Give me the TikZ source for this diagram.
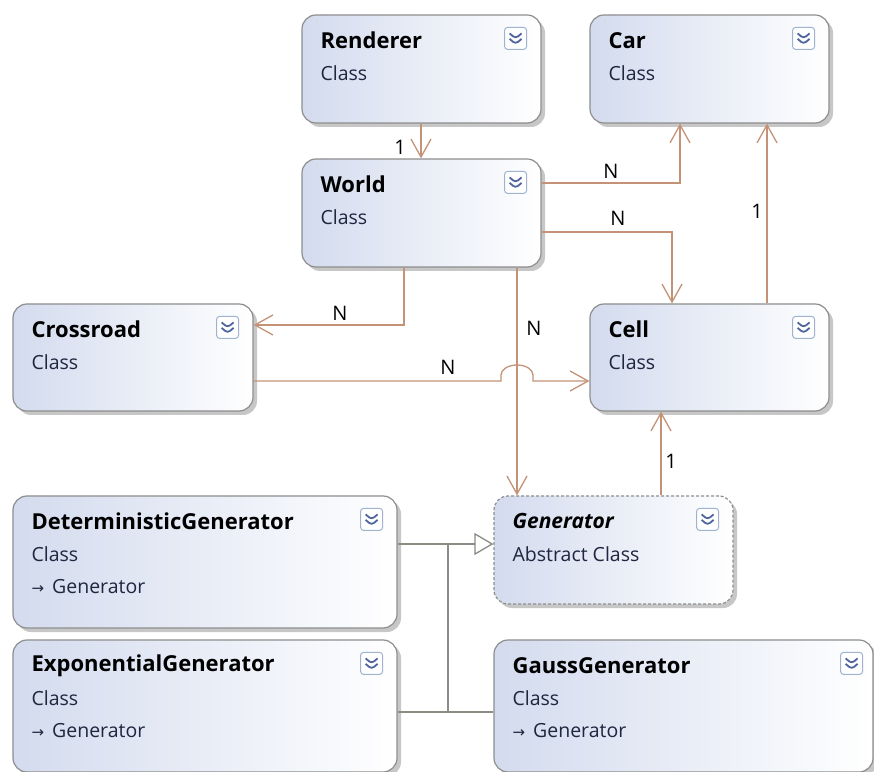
\documentclass[tikz,border=0pt]{standalone}
\usepackage{fontspec}
\setmainfont{Open Sans}
\newfontfamily\arrowfont{DejaVu Sans}
\usepackage{tikz}
\usetikzlibrary{arrows.meta,shadows}
\definecolor{assocbrown}{HTML}{C49276}
\definecolor{inhgray}{HTML}{8C8C84}
\definecolor{boxedge}{HTML}{8E8E8E}
\definecolor{boxblue}{HTML}{D3DBEE}
\definecolor{chevblue}{HTML}{4F64A0}
\definecolor{iconedge}{HTML}{9FB3D1}
\definecolor{kindtext}{HTML}{1E2640}

\tikzset{
  classbox/.style={draw=boxedge, line width=1.2pt, rounded corners=14pt,
    left color=boxblue, right color=white, inner sep=0pt,
    drop shadow={shadow xshift=4pt, shadow yshift=-4pt, fill=black, opacity=0.22}},
  abstractbox/.style={classbox, dash pattern=on 3pt off 2pt},
  boxtitle/.style={anchor=west, inner sep=0pt, font=\fontsize{22}{26}\selectfont\bfseries},
  boxkind/.style={anchor=west, inner sep=0pt, font=\fontsize{19.5}{23}\selectfont, text=kindtext},
  expander/.style={draw=iconedge, fill=white, rounded corners=3pt, minimum size=22pt,
    inner sep=0pt, line width=1pt,
    path picture={
      \draw[chevblue, line width=1.8pt]
        ([shift={(-6pt,5pt)}]path picture bounding box.center) -- ++(6pt,-5pt) -- ++(6pt,5pt);
      \draw[chevblue, line width=1.8pt]
        ([shift={(-6pt,-0.5pt)}]path picture bounding box.center) -- ++(6pt,-5pt) -- ++(6pt,5pt);
    }},
  assoc/.style={draw=assocbrown, line width=1.3pt, -{Straight Barb[length=18pt,width=20pt]}},
  inherit/.style={draw=inhgray, line width=1.3pt},
  mult/.style={font=\fontsize{20}{24}\selectfont, inner sep=0pt}
}
\newcommand{\baseref}{{\arrowfont\fontsize{15}{18}\selectfont →}\hspace{8pt}Generator}

\begin{document}
\begin{tikzpicture}[x=1pt, y=1pt]
  \useasboundingbox (0,0) rectangle (874,771);
  \clip (0,0) rectangle (874,771);

  % classes
  \node[classbox, minimum width=239pt, minimum height=108pt] (ren) at (421.5,702) {};
  \node[boxtitle] (ren-t) at ([shift={(19pt,-26pt)}]ren.north west) {Renderer};
  \node[boxkind] (ren-k) at ([shift={(19pt,-59pt)}]ren.north west) {Class};
  \node[expander] (ren-x) at ([shift={(-26pt,-24pt)}]ren.north east) {};

  \node[classbox, minimum width=239pt, minimum height=108pt] (car) at (709.5,702) {};
  \node[boxtitle] (car-t) at ([shift={(19pt,-26pt)}]car.north west) {Car};
  \node[boxkind] (car-k) at ([shift={(19pt,-59pt)}]car.north west) {Class};
  \node[expander] (car-x) at ([shift={(-26pt,-24pt)}]car.north east) {};

  \node[classbox, minimum width=239pt, minimum height=108pt] (wor) at (421.5,558) {};
  \node[boxtitle] (wor-t) at ([shift={(19pt,-26pt)}]wor.north west) {World};
  \node[boxkind] (wor-k) at ([shift={(19pt,-59pt)}]wor.north west) {Class};
  \node[expander] (wor-x) at ([shift={(-26pt,-24pt)}]wor.north east) {};

  \node[classbox, minimum width=240pt, minimum height=107pt] (cro) at (133,413.5) {};
  \node[boxtitle] (cro-t) at ([shift={(19pt,-26pt)}]cro.north west) {Crossroad};
  \node[boxkind] (cro-k) at ([shift={(19pt,-59pt)}]cro.north west) {Class};
  \node[expander] (cro-x) at ([shift={(-26pt,-24pt)}]cro.north east) {};

  \node[classbox, minimum width=239pt, minimum height=107pt] (cel) at (709.5,413.5) {};
  \node[boxtitle] (cel-t) at ([shift={(19pt,-26pt)}]cel.north west) {Cell};
  \node[boxkind] (cel-k) at ([shift={(19pt,-59pt)}]cel.north west) {Class};
  \node[expander] (cel-x) at ([shift={(-26pt,-24pt)}]cel.north east) {};

  \node[abstractbox, minimum width=239pt, minimum height=108pt] (gen) at (613.5,221) {};
  \node[boxtitle, font=\fontsize{21}{25}\selectfont\bfseries\itshape] (gen-t)
    at ([shift={(19pt,-26pt)}]gen.north west) {Generator};
  \node[boxkind] (gen-k) at ([shift={(19pt,-59pt)}]gen.north west) {Abstract Class};
  \node[expander] (gen-x) at ([shift={(-26pt,-24pt)}]gen.north east) {};

  \node[classbox, minimum width=384pt, minimum height=132pt] (det) at (205,209) {};
  \node[boxtitle] (det-t) at ([shift={(19pt,-26pt)}]det.north west) {DeterministicGenerator};
  \node[boxkind] (det-k) at ([shift={(19pt,-59pt)}]det.north west) {Class};
  \node[boxkind] (det-b) at ([shift={(19pt,-91pt)}]det.north west) {\baseref};
  \node[expander] (det-x) at ([shift={(-26pt,-24pt)}]det.north east) {};

  \node[classbox, minimum width=384pt, minimum height=132pt] (exp) at (205,65) {};
  \node[boxtitle] (exp-t) at ([shift={(19pt,-26pt)}]exp.north west) {ExponentialGenerator};
  \node[boxkind] (exp-k) at ([shift={(19pt,-59pt)}]exp.north west) {Class};
  \node[boxkind] (exp-b) at ([shift={(19pt,-91pt)}]exp.north west) {\baseref};
  \node[expander] (exp-x) at ([shift={(-26pt,-24pt)}]exp.north east) {};

  \node[classbox, minimum width=379pt, minimum height=132pt] (gau) at (683.5,65) {};
  \node[boxtitle] (gau-t) at ([shift={(19pt,-26pt)}]gau.north west) {GaussGenerator};
  \node[boxkind] (gau-k) at ([shift={(19pt,-59pt)}]gau.north west) {Class};
  \node[boxkind] (gau-b) at ([shift={(19pt,-91pt)}]gau.north west) {\baseref};
  \node[expander] (gau-x) at ([shift={(-22pt,-24pt)}]gau.north east) {};

  % associations
  \draw[assoc] ([xshift=-0.5pt]ren.south) -- ([xshift=-0.5pt]wor.north);
  \draw[assoc] ([yshift=30pt]wor.east) -| ([xshift=-29.5pt]car.south);
  \draw[assoc] ([yshift=-19pt]wor.east) -| ([xshift=-37.5pt]cel.north);
  \draw[assoc] ([xshift=57.5pt]cel.north) -- ([xshift=57.5pt]car.south);
  \draw[assoc] ([xshift=-17.5pt]wor.south) |- ([yshift=32.5pt]cro.east);
  \draw[assoc] ([xshift=95.5pt]wor.south) -- ([xshift=95.5pt]wor.south |- gen.north);
  \draw[assoc] ([yshift=-23.5pt]cro.east) -- (501,390) -- ++(0,6)
    arc[start angle=180, end angle=0, x radius=16pt, y radius=10pt] -- ++(0,-6)
    -- ([yshift=-23.5pt]cel.west);
  \draw[assoc] ([xshift=47.5pt]gen.north) -- ([xshift=47.5pt]gen.north |- cel.south);

  % multiplicities
  \node[mult] (m-ren) at (400,624) {1};
  \node[mult] (m-car) at (611,600) {N};
  \node[mult] (m-cel) at (618,553) {N};
  \node[mult] (m-cc) at (757,560) {1};
  \node[mult] (m-cro) at (340,458) {N};
  \node[mult] (m-gen) at (534,443) {N};
  \node[mult] (m-cr2) at (448,404) {N};
  \node[mult] (m-gc) at (671,310) {1};

  % inheritance
  \coordinate (jtop) at (448,227);
  \coordinate (jbot) at (448,59);
  \draw[inherit, -{Triangle[open, length=19pt, width=22pt, fill=white]}]
    ([yshift=18pt]det.east) -- ([yshift=6pt]gen.west);
  \draw[inherit] ([yshift=-6pt]exp.east) -- ([yshift=-6pt]gau.west);
  \draw[inherit] (jtop) -- (jbot);
\end{tikzpicture}
\end{document}
